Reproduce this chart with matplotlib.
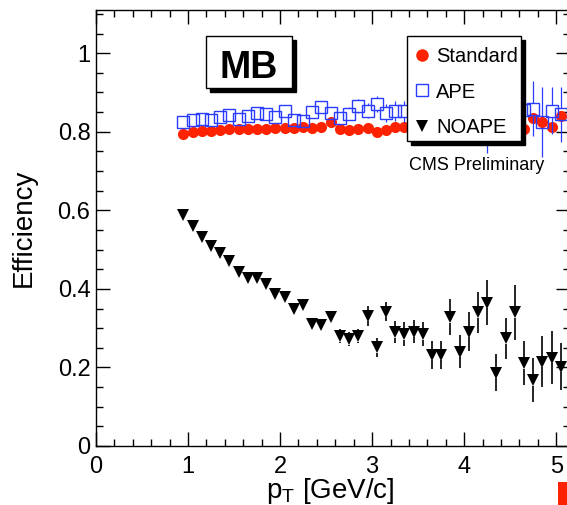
import numpy as np
import matplotlib
matplotlib.use("Agg")
import matplotlib.pyplot as plt
from matplotlib.patches import Rectangle
from matplotlib.lines import Line2D
from matplotlib.ticker import MultipleLocator, FuncFormatter

plt.rcParams['font.family'] = ['Liberation Sans', 'DejaVu Sans']
plt.rcParams['mathtext.fontset'] = 'custom'
plt.rcParams['mathtext.rm'] = 'Liberation Sans'
plt.rcParams['mathtext.it'] = 'Liberation Sans'

# bin centres in pT [GeV/c]
pt = [0.95, 1.05, 1.15, 1.25, 1.35, 1.45, 1.55, 1.65, 1.75, 1.85,
      1.95, 2.05, 2.15, 2.25, 2.35, 2.45, 2.55, 2.65, 2.75, 2.85,
      2.95, 3.05, 3.15, 3.25, 3.35, 3.45, 3.55, 3.65, 3.75, 3.85,
      3.95, 4.05, 4.15, 4.25, 4.35, 4.45, 4.55, 4.65, 4.75, 4.85,
      4.95, 5.05]

eff_standard = [0.795, 0.799, 0.801, 0.803, 0.804, 0.806, 0.806, 0.807, 0.808, 0.808,
                0.809, 0.809, 0.810, 0.811, 0.810, 0.812, 0.824, 0.806, 0.805, 0.807,
                0.809, 0.799, 0.804, 0.811, 0.813, 0.810, 0.808, 0.811, 0.809, 0.812,
                0.810, 0.813, 0.811, 0.814, 0.812, 0.815, 0.813, 0.808, 0.836, 0.826,
                0.813, 0.839]
err_standard = [0.002, 0.002, 0.002, 0.002, 0.002, 0.003, 0.003, 0.003, 0.003, 0.003,
                0.003, 0.004, 0.004, 0.004, 0.004, 0.005, 0.005, 0.005, 0.005, 0.006,
                0.006, 0.006, 0.006, 0.007, 0.007, 0.007, 0.008, 0.008, 0.008, 0.009,
                0.009, 0.009, 0.010, 0.010, 0.010, 0.011, 0.011, 0.011, 0.012, 0.012,
                0.012, 0.012]

eff_ape = [0.825, 0.831, 0.832, 0.831, 0.837, 0.842, 0.832, 0.839, 0.849, 0.845,
           0.837, 0.854, 0.829, 0.828, 0.851, 0.864, 0.848, 0.834, 0.846, 0.866,
           0.854, 0.871, 0.848, 0.853, 0.852, 0.855, 0.850, 0.858, 0.852, 0.860,
           0.848, 0.856, 0.851, 0.850, 0.857, 0.853, 0.859, 0.855, 0.858, 0.825,
           0.854, 0.845]
err_ape = [0.006, 0.006, 0.006, 0.007, 0.007, 0.007, 0.008, 0.008, 0.009, 0.009,
           0.010, 0.010, 0.011, 0.012, 0.013, 0.014, 0.015, 0.016, 0.017, 0.018,
           0.020, 0.021, 0.023, 0.025, 0.027, 0.029, 0.031, 0.033, 0.036, 0.039,
           0.042, 0.045, 0.048, 0.105, 0.052, 0.055, 0.058, 0.050, 0.070, 0.090,
           0.060, 0.070]

eff_noape = [0.587, 0.560, 0.532, 0.510, 0.491, 0.470, 0.442, 0.427, 0.427, 0.413,
             0.387, 0.380, 0.349, 0.359, 0.311, 0.308, 0.329, 0.280, 0.272, 0.279,
             0.331, 0.251, 0.342, 0.289, 0.285, 0.291, 0.285, 0.232, 0.232, 0.328,
             0.240, 0.291, 0.340, 0.365, 0.187, 0.274, 0.340, 0.211, 0.168, 0.215,
             0.225, 0.202]
err_noape = [0.005, 0.005, 0.006, 0.006, 0.006, 0.007, 0.007, 0.008, 0.008, 0.009,
             0.009, 0.010, 0.010, 0.011, 0.012, 0.012, 0.014, 0.018, 0.018, 0.018,
             0.025, 0.025, 0.025, 0.028, 0.030, 0.030, 0.030, 0.035, 0.035, 0.045,
             0.042, 0.049, 0.052, 0.057, 0.048, 0.053, 0.070, 0.056, 0.057, 0.064,
             0.068, 0.060]

labels = ["Standard", "APE", "NOAPE"]

RED = '#ff2200'
BLUE = '#2a3cff'

W, H = 567, 505
AX_L, AX_B, AX_W, AX_H = 96, 59, 474, 436   # pixels, axes runs off the right edge
XMAX, YMAX = 5.15, 1.11

fig = plt.figure(figsize=(W / 100, H / 100), dpi=100)
ax = fig.add_axes([AX_L / W, AX_B / H, AX_W / W, AX_H / H])
ax.set_xlim(0, XMAX)
ax.set_ylim(0, YMAX)


def axfrac(px, py):
    # pixel position in the image -> axes fraction
    return (px - AX_L) / AX_W, (H - AX_B - py) / AX_H


def draw_errors(x, y, err, half_px, color, lw, z):
    # ROOT style: vertical error bar is not drawn through the marker
    h = half_px / (AX_H / YMAX)
    x, y, err = np.asarray(x), np.asarray(y), np.asarray(err)
    m = err > h
    ax.vlines(x[m], y[m] + h, y[m] + err[m], color=color, lw=lw, zorder=z)
    ax.vlines(x[m], y[m] - err[m], y[m] - h, color=color, lw=lw, zorder=z)


draw_errors(pt, eff_standard, err_standard, 5.5, RED, 1.0, 2)
ax.plot(pt, eff_standard, 'o', color=RED, ms=8, mew=0, zorder=3)

draw_errors(pt, eff_ape, err_ape, 6, BLUE, 0.9, 3.5)
ax.plot(pt, eff_ape, 's', mfc='none', mec=BLUE, ms=8.6, mew=1.0, zorder=4)

draw_errors(pt, eff_noape, err_noape, 5.5, 'black', 1.2, 4.5)
ax.plot(pt, eff_noape, 'v', color='black', ms=8, mew=0, zorder=5)

# axes and ticks, ROOT look
ax.xaxis.set_major_locator(MultipleLocator(1))
ax.xaxis.set_minor_locator(MultipleLocator(0.2))
ax.yaxis.set_major_locator(MultipleLocator(0.2))
ax.yaxis.set_minor_locator(MultipleLocator(0.05))
fmt = FuncFormatter(lambda v, p: f'{v:g}')
ax.xaxis.set_major_formatter(fmt)
ax.yaxis.set_major_formatter(fmt)
ax.tick_params(which='both', direction='in', top=True, right=True,
               labelsize=17, width=1)
ax.tick_params(which='major', length=10)
ax.tick_params(which='minor', length=5)
ax.tick_params(axis='x', pad=7)
ax.tick_params(axis='y', pad=4)
for s in ax.spines.values():
    s.set_linewidth(1)

ax.set_xlabel(r'$\mathregular{p_T}$ [GeV/c]', fontsize=20)
ax.xaxis.set_label_coords(0.494, -0.068)
ax.set_ylabel('Efficiency', fontsize=20)
ax.yaxis.set_label_coords(-0.124, 0.5)

# "MB" box with shadow
x0, y0 = axfrac(210, 92)
x1, y1 = axfrac(296, 40)
ax.add_patch(Rectangle((x0, y0), x1 - x0, y1 - y0, transform=ax.transAxes,
                       fc='black', ec='black', zorder=6, clip_on=False))
x0, y0 = axfrac(206, 88)
x1, y1 = axfrac(292, 36)
ax.add_patch(Rectangle((x0, y0), x1 - x0, y1 - y0, transform=ax.transAxes,
                       fc='white', ec='black', lw=1, zorder=7, clip_on=False))
tx, ty = axfrac(249, 78)
ax.text(tx, ty, 'MB', transform=ax.transAxes, ha='center', va='baseline',
        fontsize=27, fontweight='bold', zorder=8)

# legend box with shadow
x0, y0 = axfrac(411, 145)
x1, y1 = axfrac(525, 40)
ax.add_patch(Rectangle((x0, y0), x1 - x0, y1 - y0, transform=ax.transAxes,
                       fc='black', ec='black', zorder=6, clip_on=False))
x0, y0 = axfrac(407, 141)
x1, y1 = axfrac(521, 36)
ax.add_patch(Rectangle((x0, y0), x1 - x0, y1 - y0, transform=ax.transAxes,
                       fc='white', ec='black', lw=1, zorder=7, clip_on=False))

handles = [Line2D([], [], ls='none', marker='o', color=RED, ms=9, mew=0),
           Line2D([], [], ls='none', marker='s', mfc='none', mec=BLUE, ms=9, mew=1),
           Line2D([], [], ls='none', marker='v', color='black', ms=9, mew=0)]
leg = ax.legend(handles, labels, loc='upper left', bbox_to_anchor=axfrac(414, 47),
                frameon=False, fontsize=14.5, handlelength=0.8, handletextpad=0.3,
                labelspacing=0.82, borderpad=0, borderaxespad=0)
leg.set_zorder(8)

cx, cy = axfrac(477, 165)
ax.text(cx, cy, 'CMS Preliminary', transform=ax.transAxes, ha='center',
        va='center', fontsize=13, zorder=8)

# red mark in the bottom right corner
fig.add_artist(Rectangle((558 / W, 0), 9 / W, 23 / H, transform=fig.transFigure,
                         fc=RED, ec='none'))

fig.savefig('out.png', dpi=100)
